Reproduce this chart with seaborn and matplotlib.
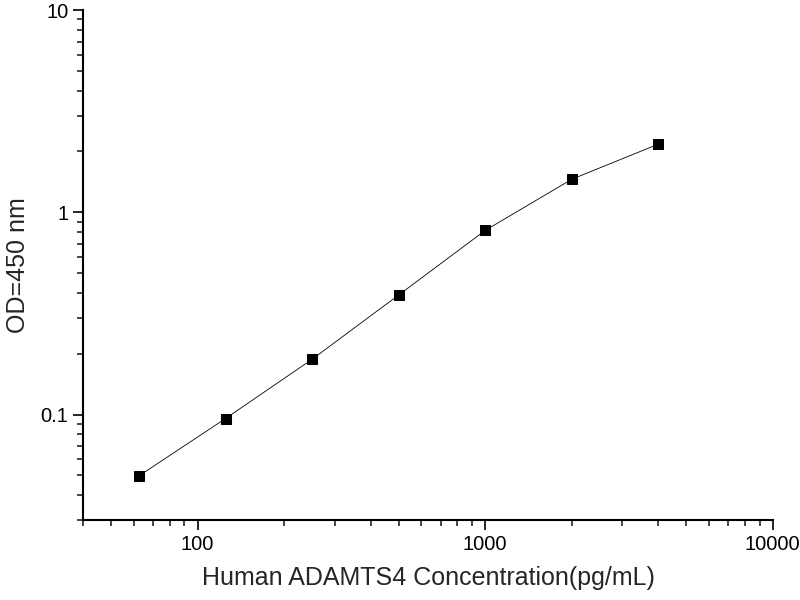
import pandas as pd
import seaborn as sns
import matplotlib
matplotlib.use("Agg")
import matplotlib.pyplot as plt
from matplotlib.ticker import LogLocator, FixedLocator, FixedFormatter, NullFormatter

# standard curve values
concentration = [62.5, 125, 250, 500, 1000, 2000, 4000]
od450 = [0.0497, 0.0955, 0.1875, 0.390, 0.814, 1.458, 2.175]

x_ticks = [100, 1000, 10000]
x_tick_labels = ["100", "1000", "10000"]
y_ticks = [0.1, 1, 10]
y_tick_labels = ["0.1", "1", "10"]

df = pd.DataFrame({"conc": concentration, "od": od450})

sns.set_style("ticks")
plt.rcParams["font.family"] = ["Liberation Sans", "DejaVu Sans"]

fig = plt.figure(figsize=(8, 6), dpi=100)
ax = fig.add_axes([0.104, 0.133, 0.862, 0.850])

sns.lineplot(data=df, x="conc", y="od", ax=ax, color="black", linewidth=0.6,
             marker="s", markersize=7, markeredgecolor="black",
             markerfacecolor="black")

ax.set_xscale("log")
ax.set_yscale("log")
ax.set_xlim(40, 10000)
ax.set_ylim(0.03, 10)

ax.xaxis.set_major_locator(FixedLocator(x_ticks))
ax.xaxis.set_major_formatter(FixedFormatter(x_tick_labels))
ax.yaxis.set_major_locator(FixedLocator(y_ticks))
ax.yaxis.set_major_formatter(FixedFormatter(y_tick_labels))
ax.xaxis.set_minor_locator(LogLocator(base=10, subs=range(2, 10)))
ax.yaxis.set_minor_locator(LogLocator(base=10, subs=range(2, 10)))
ax.xaxis.set_minor_formatter(NullFormatter())
ax.yaxis.set_minor_formatter(NullFormatter())

ax.tick_params(which="major", direction="out", length=7, width=1.2,
               labelsize=14.5, colors="black")
ax.tick_params(which="minor", direction="out", length=4, width=1.2)

for side in ["top", "right"]:
    ax.spines[side].set_visible(False)
for side in ["left", "bottom"]:
    ax.spines[side].set_linewidth(1.5)
    ax.spines[side].set_color("black")

ax.set_xlabel("Human ADAMTS4 Concentration(pg/mL)", fontsize=18, labelpad=9)
ax.set_ylabel("OD=450 nm", fontsize=18, labelpad=8)

fig.savefig("out.png", dpi=100)
